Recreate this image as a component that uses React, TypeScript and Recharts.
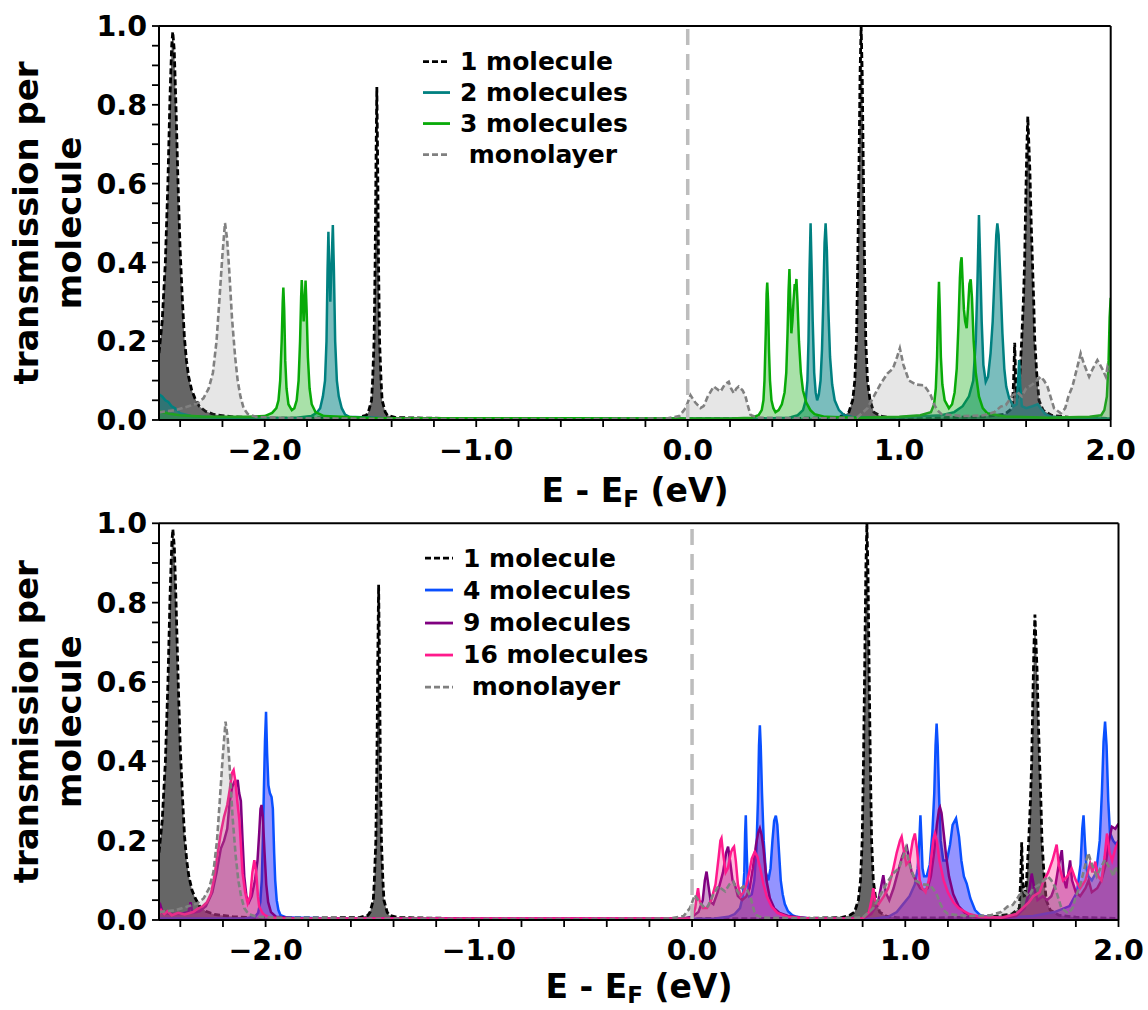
import { ComposedChart, Area, XAxis, YAxis, ReferenceLine, Legend } from "recharts";

type Pt = [number, number];

const FONT = "'DejaVu Sans', sans-serif";

// axis ticks (energy in eV, transmission per molecule)
const xTicks = [-2.4, -2.2, -2.0, -1.8, -1.6, -1.4, -1.2, -1.0, -0.8, -0.6, -0.4, -0.2, 0.0, 0.2, 0.4, 0.6, 0.8, 1.0, 1.2, 1.4, 1.6, 1.8, 2.0];
const xLabels = [-2, -1, 0, 1, 2];
const yTicks = [0, 0.05, 0.1, 0.15, 0.2, 0.25, 0.3, 0.35, 0.4, 0.45, 0.5, 0.55, 0.6, 0.65, 0.7, 0.75, 0.8, 0.85, 0.9, 0.95, 1.0];
const yLabels = [0, 0.2, 0.4, 0.6, 0.8, 1.0];

// transmission curves, [E - E_F, T]
const oneMolecule: Pt[] = [
  [-2.5, 0.17], [-2.485, 0.25], [-2.47, 0.4], [-2.458, 0.6], [-2.448, 0.82], [-2.44, 0.95], [-2.435, 0.985],
  [-2.428, 0.94], [-2.42, 0.8], [-2.41, 0.6], [-2.4, 0.43], [-2.39, 0.31], [-2.38, 0.21], [-2.37, 0.15],
  [-2.36, 0.11], [-2.345, 0.075], [-2.33, 0.055], [-2.31, 0.035], [-2.28, 0.022], [-2.24, 0.014], [-2.15, 0.008],
  [-2.0, 0.005], [-1.8, 0.005], [-1.56, 0.006], [-1.52, 0.012], [-1.51, 0.02], [-1.495, 0.05], [-1.49, 0.1],
  [-1.483, 0.2], [-1.478, 0.4], [-1.474, 0.65], [-1.47, 0.845], [-1.466, 0.65], [-1.462, 0.4], [-1.457, 0.2],
  [-1.45, 0.1], [-1.445, 0.05], [-1.43, 0.02], [-1.42, 0.012], [-1.38, 0.006], [-1.0, 0.003], [0.0, 0.003],
  [0.5, 0.004], [0.7, 0.006], [0.74, 0.012], [0.762, 0.02], [0.78, 0.05], [0.79, 0.1], [0.798, 0.2],
  [0.804, 0.4], [0.81, 0.65], [0.815, 0.88], [0.82, 1.0], [0.825, 0.88], [0.83, 0.65], [0.836, 0.4],
  [0.842, 0.2], [0.85, 0.1], [0.862, 0.05], [0.88, 0.02], [0.91, 0.01], [0.96, 0.006], [1.1, 0.005],
  [1.4, 0.008], [1.5, 0.015], [1.535, 0.03], [1.541, 0.1], [1.546, 0.196], [1.551, 0.1], [1.558, 0.055],
  [1.568, 0.09], [1.579, 0.2], [1.587, 0.3], [1.593, 0.4], [1.598, 0.55], [1.603, 0.68], [1.608, 0.77],
  [1.613, 0.7], [1.618, 0.63], [1.624, 0.5], [1.63, 0.4], [1.636, 0.3], [1.641, 0.2], [1.65, 0.12],
  [1.661, 0.05], [1.68, 0.025], [1.72, 0.012], [1.8, 0.007], [2.0, 0.004],
];

const monolayer: Pt[] = [
  [-2.5, 0.02], [-2.42, 0.025], [-2.36, 0.035], [-2.32, 0.042], [-2.29, 0.055], [-2.265, 0.08], [-2.245, 0.12],
  [-2.228, 0.2], [-2.215, 0.3], [-2.2, 0.42], [-2.188, 0.5], [-2.178, 0.46], [-2.168, 0.38], [-2.155, 0.26],
  [-2.14, 0.16], [-2.128, 0.1], [-2.115, 0.06], [-2.1, 0.03], [-2.08, 0.015], [-2.04, 0.008], [-1.9, 0.005],
  [-1.5, 0.003], [-0.5, 0.002], [-0.1, 0.004], [-0.04, 0.01], [-0.01, 0.03], [0.013, 0.063], [0.035, 0.045],
  [0.06, 0.03], [0.075, 0.035], [0.095, 0.06], [0.123, 0.085], [0.14, 0.078], [0.155, 0.072], [0.175, 0.09],
  [0.194, 0.097], [0.205, 0.08], [0.218, 0.068], [0.23, 0.08], [0.241, 0.085], [0.26, 0.075], [0.273, 0.06],
  [0.285, 0.035], [0.297, 0.013], [0.33, 0.006], [0.6, 0.004], [0.8, 0.006], [0.85, 0.03], [0.88, 0.06],
  [0.91, 0.09], [0.944, 0.118], [0.97, 0.13], [0.99, 0.16], [1.003, 0.182], [1.02, 0.14], [1.046, 0.1],
  [1.08, 0.09], [1.117, 0.088], [1.135, 0.075], [1.149, 0.063], [1.165, 0.04], [1.18, 0.025], [1.2, 0.015],
  [1.3, 0.01], [1.4, 0.012], [1.45, 0.02], [1.48, 0.034], [1.504, 0.038], [1.52, 0.05], [1.535, 0.063],
  [1.56, 0.07], [1.58, 0.06], [1.6, 0.08], [1.63, 0.09], [1.65, 0.1], [1.669, 0.11], [1.685, 0.1],
  [1.701, 0.085], [1.715, 0.06], [1.732, 0.03], [1.764, 0.017], [1.785, 0.03], [1.8, 0.06], [1.819, 0.085],
  [1.84, 0.13], [1.858, 0.169], [1.875, 0.14], [1.898, 0.11], [1.915, 0.13], [1.937, 0.152], [1.96, 0.13],
  [1.977, 0.11], [1.985, 0.135], [2.0, 0.12],
];

const twoMolecules: Pt[] = [
  [-2.5, 0.065], [-2.485, 0.06], [-2.47, 0.05], [-2.456, 0.046], [-2.44, 0.035], [-2.424, 0.03], [-2.4, 0.017],
  [-2.35, 0.01], [-2.2, 0.006], [-2.0, 0.005], [-1.85, 0.006], [-1.78, 0.01], [-1.755, 0.018], [-1.738, 0.03],
  [-1.725, 0.06], [-1.715, 0.1], [-1.708, 0.2], [-1.703, 0.38], [-1.699, 0.478], [-1.695, 0.38], [-1.69, 0.3],
  [-1.685, 0.38], [-1.678, 0.495], [-1.673, 0.38], [-1.667, 0.2], [-1.659, 0.1], [-1.65, 0.06], [-1.636, 0.03],
  [-1.62, 0.014], [-1.6, 0.008], [-1.4, 0.004], [0.3, 0.003], [0.48, 0.006], [0.52, 0.012], [0.545, 0.025],
  [0.558, 0.05], [0.566, 0.1], [0.571, 0.2], [0.576, 0.38], [0.581, 0.499], [0.586, 0.38], [0.591, 0.25],
  [0.598, 0.12], [0.605, 0.07], [0.612, 0.05], [0.62, 0.065], [0.628, 0.1], [0.635, 0.18], [0.641, 0.3],
  [0.647, 0.45], [0.652, 0.499], [0.658, 0.43], [0.665, 0.28], [0.673, 0.16], [0.683, 0.09], [0.695, 0.05],
  [0.715, 0.025], [0.738, 0.013], [0.78, 0.007], [1.0, 0.007], [1.2, 0.012], [1.26, 0.02], [1.3, 0.035],
  [1.33, 0.06], [1.35, 0.1], [1.362, 0.2], [1.37, 0.35], [1.377, 0.52], [1.383, 0.4], [1.39, 0.25],
  [1.398, 0.14], [1.409, 0.097], [1.42, 0.11], [1.432, 0.17], [1.442, 0.25], [1.452, 0.38], [1.459, 0.47],
  [1.464, 0.499], [1.47, 0.47], [1.478, 0.36], [1.488, 0.22], [1.497, 0.13], [1.506, 0.085], [1.52, 0.055],
  [1.54, 0.035], [1.556, 0.04], [1.562, 0.1], [1.567, 0.152], [1.572, 0.09], [1.58, 0.035], [1.6, 0.03],
  [1.63, 0.035], [1.655, 0.04], [1.669, 0.03], [1.69, 0.015], [1.72, 0.008], [1.8, 0.005], [2.0, 0.004],
];

const threeMolecules: Pt[] = [
  [-2.5, 0.022], [-2.45, 0.016], [-2.4, 0.012], [-2.3, 0.009], [-2.1, 0.008], [-2.0, 0.01], [-1.965, 0.018],
  [-1.945, 0.03], [-1.935, 0.05], [-1.927, 0.1], [-1.92, 0.2], [-1.915, 0.3], [-1.912, 0.336], [-1.908, 0.28],
  [-1.903, 0.15], [-1.897, 0.08], [-1.888, 0.04], [-1.872, 0.025], [-1.86, 0.03], [-1.849, 0.05], [-1.84, 0.1],
  [-1.833, 0.2], [-1.828, 0.31], [-1.825, 0.355], [-1.82, 0.3], [-1.816, 0.25], [-1.811, 0.3], [-1.807, 0.354],
  [-1.802, 0.28], [-1.796, 0.16], [-1.788, 0.08], [-1.778, 0.04], [-1.76, 0.02], [-1.72, 0.01], [-1.5, 0.005],
  [0.2, 0.004], [0.3, 0.006], [0.335, 0.012], [0.35, 0.025], [0.358, 0.05], [0.363, 0.1], [0.369, 0.22],
  [0.373, 0.32], [0.376, 0.349], [0.38, 0.3], [0.384, 0.18], [0.389, 0.1], [0.396, 0.05], [0.405, 0.03],
  [0.415, 0.02], [0.43, 0.025], [0.445, 0.04], [0.458, 0.07], [0.466, 0.12], [0.472, 0.22], [0.477, 0.33],
  [0.481, 0.383], [0.485, 0.3], [0.49, 0.22], [0.495, 0.25], [0.5, 0.3], [0.506, 0.345], [0.51, 0.33],
  [0.514, 0.358], [0.519, 0.3], [0.526, 0.2], [0.535, 0.12], [0.545, 0.075], [0.56, 0.045], [0.58, 0.025],
  [0.6, 0.015], [0.65, 0.008], [0.8, 0.006], [1.0, 0.008], [1.1, 0.012], [1.15, 0.02], [1.165, 0.04],
  [1.173, 0.08], [1.179, 0.16], [1.184, 0.28], [1.188, 0.351], [1.192, 0.28], [1.197, 0.16], [1.204, 0.09],
  [1.215, 0.05], [1.235, 0.03], [1.25, 0.04], [1.262, 0.07], [1.272, 0.13], [1.28, 0.24], [1.287, 0.36],
  [1.291, 0.4], [1.295, 0.413], [1.3, 0.35], [1.306, 0.28], [1.312, 0.25], [1.319, 0.233], [1.326, 0.29],
  [1.332, 0.345], [1.338, 0.357], [1.344, 0.31], [1.352, 0.2], [1.362, 0.12], [1.377, 0.06], [1.395, 0.03],
  [1.417, 0.017], [1.5, 0.009], [1.7, 0.006], [1.9, 0.008], [1.955, 0.012], [1.97, 0.025], [1.982, 0.06],
  [1.99, 0.15], [1.995, 0.26], [2.0, 0.31],
];

const fourMolecules: Pt[] = [
  [-2.5, 0.004], [-2.1, 0.004], [-2.05, 0.008], [-2.035, 0.018], [-2.025, 0.045], [-2.018, 0.1], [-2.013, 0.2],
  [-2.008, 0.33], [-2.003, 0.45], [-1.998, 0.525], [-1.993, 0.42], [-1.987, 0.34], [-1.98, 0.32], [-1.972, 0.31],
  [-1.966, 0.28], [-1.96, 0.17], [-1.955, 0.1], [-1.948, 0.05], [-1.94, 0.025], [-1.93, 0.012], [-1.9, 0.006],
  [-1.6, 0.003], [0.1, 0.003], [0.17, 0.008], [0.2, 0.015], [0.225, 0.03], [0.238, 0.06], [0.245, 0.12],
  [0.249, 0.22], [0.252, 0.264], [0.256, 0.18], [0.261, 0.1], [0.268, 0.06], [0.28, 0.065], [0.292, 0.1],
  [0.302, 0.18], [0.309, 0.3], [0.314, 0.44], [0.318, 0.491], [0.322, 0.44], [0.328, 0.32], [0.336, 0.2],
  [0.346, 0.12], [0.358, 0.1], [0.368, 0.13], [0.377, 0.2], [0.385, 0.25], [0.393, 0.263], [0.4, 0.24],
  [0.408, 0.17], [0.416, 0.1], [0.425, 0.065], [0.435, 0.04], [0.45, 0.022], [0.47, 0.012], [0.49, 0.008],
  [0.55, 0.004], [0.85, 0.003], [0.92, 0.008], [0.96, 0.02], [0.99, 0.04], [1.02, 0.06], [1.045, 0.09],
  [1.058, 0.13], [1.066, 0.2], [1.071, 0.264], [1.076, 0.2], [1.081, 0.13], [1.088, 0.11], [1.1, 0.11],
  [1.115, 0.14], [1.127, 0.22], [1.136, 0.32], [1.142, 0.44], [1.147, 0.495], [1.152, 0.44], [1.158, 0.32],
  [1.166, 0.2], [1.178, 0.15], [1.195, 0.15], [1.21, 0.19], [1.222, 0.24], [1.238, 0.256], [1.252, 0.21],
  [1.263, 0.15], [1.275, 0.11], [1.288, 0.092], [1.305, 0.055], [1.327, 0.025], [1.35, 0.013], [1.374, 0.008],
  [1.45, 0.005], [1.6, 0.01], [1.7, 0.02], [1.77, 0.035], [1.805, 0.07], [1.822, 0.14], [1.83, 0.23],
  [1.836, 0.264], [1.842, 0.2], [1.85, 0.13], [1.859, 0.11], [1.875, 0.1], [1.895, 0.12], [1.912, 0.2],
  [1.922, 0.32], [1.93, 0.45], [1.937, 0.5], [1.944, 0.44], [1.952, 0.3], [1.96, 0.22], [1.975, 0.2],
  [1.99, 0.19], [2.0, 0.2],
];

const nineMolecules: Pt[] = [
  [-2.5, 0.02], [-2.492, 0.035], [-2.484, 0.02], [-2.45, 0.015], [-2.4, 0.015], [-2.362, 0.02], [-2.352, 0.045],
  [-2.343, 0.018], [-2.31, 0.022], [-2.28, 0.035], [-2.25, 0.07], [-2.23, 0.12], [-2.21, 0.18], [-2.195, 0.2],
  [-2.18, 0.23], [-2.168, 0.3], [-2.157, 0.335], [-2.147, 0.348], [-2.138, 0.34], [-2.131, 0.353], [-2.124, 0.32],
  [-2.116, 0.3], [-2.108, 0.2], [-2.1, 0.11], [-2.09, 0.06], [-2.078, 0.045], [-2.065, 0.06], [-2.05, 0.1],
  [-2.038, 0.15], [-2.03, 0.22], [-2.024, 0.28], [-2.019, 0.29], [-2.013, 0.26], [-2.005, 0.17], [-1.997, 0.09],
  [-1.988, 0.045], [-1.975, 0.02], [-1.95, 0.008], [-1.85, 0.004], [-1.5, 0.003], [-0.05, 0.003], [0.0, 0.008],
  [0.03, 0.02], [0.05, 0.05], [0.06, 0.1], [0.068, 0.122], [0.076, 0.09], [0.088, 0.045], [0.1, 0.04],
  [0.12, 0.07], [0.145, 0.12], [0.16, 0.17], [0.169, 0.185], [0.178, 0.15], [0.19, 0.1], [0.2, 0.09],
  [0.215, 0.06], [0.235, 0.05], [0.255, 0.06], [0.27, 0.08], [0.285, 0.13], [0.3, 0.19], [0.31, 0.22],
  [0.318, 0.231], [0.326, 0.215], [0.335, 0.18], [0.349, 0.1], [0.365, 0.055], [0.385, 0.03], [0.41, 0.018],
  [0.45, 0.01], [0.55, 0.004], [0.8, 0.004], [0.84, 0.015], [0.87, 0.04], [0.885, 0.08], [0.897, 0.113],
  [0.908, 0.07], [0.925, 0.05], [0.945, 0.08], [0.965, 0.12], [0.985, 0.16], [1.0, 0.18], [1.007, 0.185],
  [1.016, 0.16], [1.03, 0.12], [1.05, 0.1], [1.07, 0.08], [1.09, 0.075], [1.105, 0.08], [1.12, 0.11],
  [1.135, 0.17], [1.148, 0.24], [1.158, 0.278], [1.163, 0.284], [1.17, 0.27], [1.18, 0.22], [1.192, 0.16],
  [1.205, 0.11], [1.225, 0.065], [1.25, 0.035], [1.28, 0.018], [1.32, 0.008], [1.45, 0.004], [1.52, 0.01],
  [1.56, 0.03], [1.58, 0.07], [1.593, 0.117], [1.605, 0.08], [1.62, 0.05], [1.645, 0.06], [1.665, 0.05],
  [1.685, 0.06], [1.705, 0.09], [1.72, 0.14], [1.734, 0.176], [1.745, 0.1], [1.755, 0.08], [1.765, 0.12],
  [1.773, 0.15], [1.782, 0.1], [1.8, 0.07], [1.82, 0.06], [1.845, 0.08], [1.86, 0.1], [1.875, 0.07],
  [1.9, 0.08], [1.92, 0.1], [1.94, 0.14], [1.955, 0.2], [1.969, 0.235], [1.985, 0.23], [2.0, 0.243],
];

const sixteenMolecules: Pt[] = [
  [-2.5, 0.015], [-2.49, 0.025], [-2.475, 0.015], [-2.46, 0.022], [-2.44, 0.012], [-2.41, 0.018], [-2.38, 0.014],
  [-2.34, 0.02], [-2.32, 0.028], [-2.296, 0.034], [-2.275, 0.045], [-2.256, 0.067], [-2.24, 0.11], [-2.225, 0.168],
  [-2.21, 0.22], [-2.195, 0.26], [-2.18, 0.29], [-2.168, 0.33], [-2.158, 0.37], [-2.15, 0.378], [-2.142, 0.35],
  [-2.133, 0.3], [-2.123, 0.252], [-2.115, 0.18], [-2.108, 0.118], [-2.096, 0.07], [-2.084, 0.042], [-2.072, 0.06],
  [-2.062, 0.12], [-2.053, 0.151], [-2.044, 0.12], [-2.036, 0.06], [-2.03, 0.034], [-2.015, 0.018], [-2.006, 0.013],
  [-1.98, 0.006], [-1.9, 0.004], [0.0, 0.004], [0.015, 0.03], [0.022, 0.06], [0.028, 0.08], [0.035, 0.05],
  [0.05, 0.03], [0.07, 0.03], [0.09, 0.05], [0.11, 0.09], [0.125, 0.16], [0.133, 0.2], [0.138, 0.206],
  [0.145, 0.17], [0.158, 0.12], [0.168, 0.13], [0.182, 0.17], [0.19, 0.18], [0.197, 0.185], [0.205, 0.15],
  [0.215, 0.09], [0.228, 0.06], [0.242, 0.07], [0.255, 0.09], [0.268, 0.12], [0.28, 0.155], [0.294, 0.172],
  [0.306, 0.16], [0.32, 0.13], [0.335, 0.09], [0.35, 0.06], [0.373, 0.034], [0.4, 0.018], [0.45, 0.008],
  [0.55, 0.004], [0.8, 0.004], [0.83, 0.02], [0.845, 0.06], [0.85, 0.08], [0.858, 0.05], [0.875, 0.04],
  [0.9, 0.06], [0.92, 0.08], [0.94, 0.12], [0.96, 0.17], [0.975, 0.2], [0.983, 0.21], [0.992, 0.18],
  [1.005, 0.14], [1.02, 0.15], [1.035, 0.2], [1.045, 0.218], [1.055, 0.18], [1.068, 0.1], [1.08, 0.08],
  [1.095, 0.07], [1.11, 0.1], [1.122, 0.16], [1.132, 0.205], [1.139, 0.218], [1.148, 0.2], [1.16, 0.15],
  [1.18, 0.1], [1.2, 0.07], [1.225, 0.045], [1.25, 0.03], [1.3, 0.015], [1.35, 0.008], [1.45, 0.006],
  [1.52, 0.015], [1.55, 0.03], [1.58, 0.045], [1.6, 0.06], [1.63, 0.07], [1.65, 0.1], [1.67, 0.12],
  [1.69, 0.15], [1.71, 0.19], [1.72, 0.14], [1.74, 0.1], [1.76, 0.11], [1.78, 0.13], [1.8, 0.1],
  [1.82, 0.08], [1.845, 0.1], [1.867, 0.143], [1.878, 0.12], [1.891, 0.147], [1.905, 0.11], [1.92, 0.1],
  [1.935, 0.16], [1.946, 0.218], [1.958, 0.17], [1.97, 0.15], [1.985, 0.18], [2.0, 0.2],
];

type SeriesStyle = {
  key: string;
  name: string;
  points: Pt[];
  stroke: string;
  fill: string;
  fillOpacity: number;
  width: number;
  dash?: string;
};

const styleOne = { key: "one", name: "1 molecule", points: oneMolecule, stroke: "#000000", fill: "#000000", fillOpacity: 0.6, width: 2.8, dash: "6 3" };
const styleMono = { key: "mono", name: " monolayer", points: monolayer, stroke: "#808080", fill: "#808080", fillOpacity: 0.2, width: 2.6, dash: "6 3" };

const topSeries: SeriesStyle[] = [
  styleOne,
  { key: "two", name: "2 molecules", points: twoMolecules, stroke: "#008080", fill: "#008080", fillOpacity: 0.52, width: 2.5 },
  { key: "three", name: "3 molecules", points: threeMolecules, stroke: "#08aa08", fill: "#08aa08", fillOpacity: 0.35, width: 2.5 },
  styleMono,
];

const bottomSeries: SeriesStyle[] = [
  styleOne,
  { key: "four", name: "4 molecules", points: fourMolecules, stroke: "#0a50ff", fill: "#2a2aff", fillOpacity: 0.5, width: 2.5 },
  { key: "nine", name: "9 molecules", points: nineMolecules, stroke: "#800080", fill: "#800080", fillOpacity: 0.38, width: 2.5 },
  { key: "sixteen", name: "16 molecules", points: sixteenMolecules, stroke: "#ff1a8c", fill: "#ff1a8c", fillOpacity: 0.3, width: 2.5 },
  styleMono,
];

// merge the separate curves into one table keyed by energy
function buildTable(series: SeriesStyle[]) {
  const rows = new Map<number, Record<string, number>>();
  for (const s of series) {
    for (const [x, y] of s.points) {
      const row = rows.get(x) ?? { x };
      row[s.key] = y;
      rows.set(x, row);
    }
  }
  return [...rows.values()].sort((a, b) => a.x - b.x);
}

const near = (list: number[], v: number) => list.some((l) => Math.abs(l - v) < 1e-6);
const fmtX = (v: number) => (near(xLabels, v) ? v.toFixed(1).replace("-", "\u2212") : "");
const fmtY = (v: number) => (near(yLabels, v) ? v.toFixed(1) : "");

const tickText = { fontSize: 28.5, fontWeight: "bold", fill: "#000", fontFamily: FONT };
const axisLine = { stroke: "#000", strokeWidth: 2 };
const tickLine = { stroke: "#000", strokeWidth: 1.8 };

function LegendBox({ items, rowHeight, lineLen }: { items: SeriesStyle[]; rowHeight: number; lineLen: number }) {
  return (
    <div style={{ fontFamily: FONT, fontWeight: "bold", fontSize: 25, color: "#000", lineHeight: 1 }}>
      {items.map((s) => (
        <div key={s.key} style={{ display: "flex", alignItems: "center", height: rowHeight, whiteSpace: "pre" }}>
          <svg width={lineLen + 10} height={rowHeight} style={{ flex: "none" }}>
            <line x1={0} x2={lineLen} y1={rowHeight / 2} y2={rowHeight / 2} stroke={s.stroke} strokeWidth={2.8} strokeDasharray={s.dash} />
          </svg>
          <span>{s.name}</span>
        </div>
      ))}
    </div>
  );
}

type PanelProps = {
  series: SeriesStyle[];
  height: number;
  margin: { top: number; right: number; bottom: number; left: number };
  legendLeft: number;
  legendTop: number;
  rowHeight: number;
  lineLen: number;
};

function Panel({ series, height, margin, legendLeft, legendTop, rowHeight, lineLen }: PanelProps) {
  const data = buildTable(series);
  return (
    <ComposedChart width={1148} height={height} data={data} margin={margin}>
      <XAxis dataKey="x" type="number" domain={[-2.5, 2]} ticks={xTicks} interval={0} allowDataOverflow height={40}
        tickSize={7} tickMargin={13} tickFormatter={fmtX} tick={tickText} axisLine={axisLine} tickLine={tickLine} />
      <XAxis xAxisId="top" orientation="top" mirror type="number" domain={[-2.5, 2]} ticks={xTicks} interval={0}
        allowDataOverflow tick={false} tickSize={7} axisLine={axisLine} tickLine={tickLine} />
      <YAxis type="number" domain={[0, 1]} ticks={yTicks} interval={0} allowDataOverflow width={100}
        tickSize={7} tickMargin={5} tickFormatter={fmtY} tick={tickText} axisLine={axisLine} tickLine={tickLine} />
      <YAxis yAxisId="right" orientation="right" mirror type="number" domain={[0, 1]} ticks={yTicks} interval={0}
        allowDataOverflow tick={false} tickSize={7} axisLine={axisLine} tickLine={tickLine} />
      <ReferenceLine x={0} stroke="#bdbdbd" strokeWidth={3.5} strokeDasharray="16 9" />
      {series.map((s) => (
        <Area
          key={s.key}
          type="linear"
          dataKey={s.key}
          name={s.name}
          stroke={s.stroke}
          strokeWidth={s.width}
          strokeDasharray={s.dash}
          fill={s.fill}
          fillOpacity={s.fillOpacity}
          baseValue={0}
          connectNulls
          dot={false}
          activeDot={false}
          isAnimationActive={false}
        />
      ))}
      <Legend
        layout="vertical"
        align="center"
        verticalAlign="middle"
        wrapperStyle={{ left: legendLeft, top: legendTop, width: 320 }}
        content={() => <LegendBox items={series} rowHeight={rowHeight} lineLen={lineLen} />}
      />
    </ComposedChart>
  );
}

function AxisTitles({ top, yCenter, xCenter, xBaseline }: { top: number; yCenter: number; xCenter: number; xBaseline: number }) {
  const t = { fontFamily: FONT, fontWeight: "bold", fontSize: 34, fill: "#000" } as const;
  return (
    <g transform={`translate(0, ${top})`}>
      <text {...t} textAnchor="middle" transform={`translate(38, ${yCenter}) rotate(-90)`}>transmission per</text>
      <text {...t} textAnchor="middle" transform={`translate(81, ${yCenter}) rotate(-90)`}>molecule</text>
      <text {...t} fontSize={33} textAnchor="middle" x={xCenter} y={xBaseline}>
        E - E<tspan fontSize={23} dy={5}>F</tspan><tspan dy={-5}> (eV)</tspan>
      </text>
    </g>
  );
}

export default function App() {
  return (
    <div style={{ position: "absolute", left: 0, top: 0, width: 1148, height: 1010, background: "#fff" }}>
      <div style={{ position: "absolute", left: 0, top: 0 }}>
        <Panel series={topSeries} height={500} margin={{ top: 26, right: 37.3, bottom: 40, left: 59 }}
          legendLeft={423} legendTop={46} rowHeight={31.1} lineLen={27} />
      </div>
      <div style={{ position: "absolute", left: 0, top: 500 }}>
        <Panel series={bottomSeries} height={510} margin={{ top: 23.3, right: 29.5, bottom: 50, left: 59 }}
          legendLeft={425} legendTop={42.4} rowHeight={32.1} lineLen={28} />
      </div>
      <svg width={1148} height={1010} style={{ position: "absolute", left: 0, top: 0, pointerEvents: "none" }}>
        <AxisTitles top={0} yCenter={223} xCenter={635} xBaseline={502} />
        <AxisTitles top={500} yCenter={221.7} xCenter={639} xBaseline={498} />
      </svg>
    </div>
  );
}
